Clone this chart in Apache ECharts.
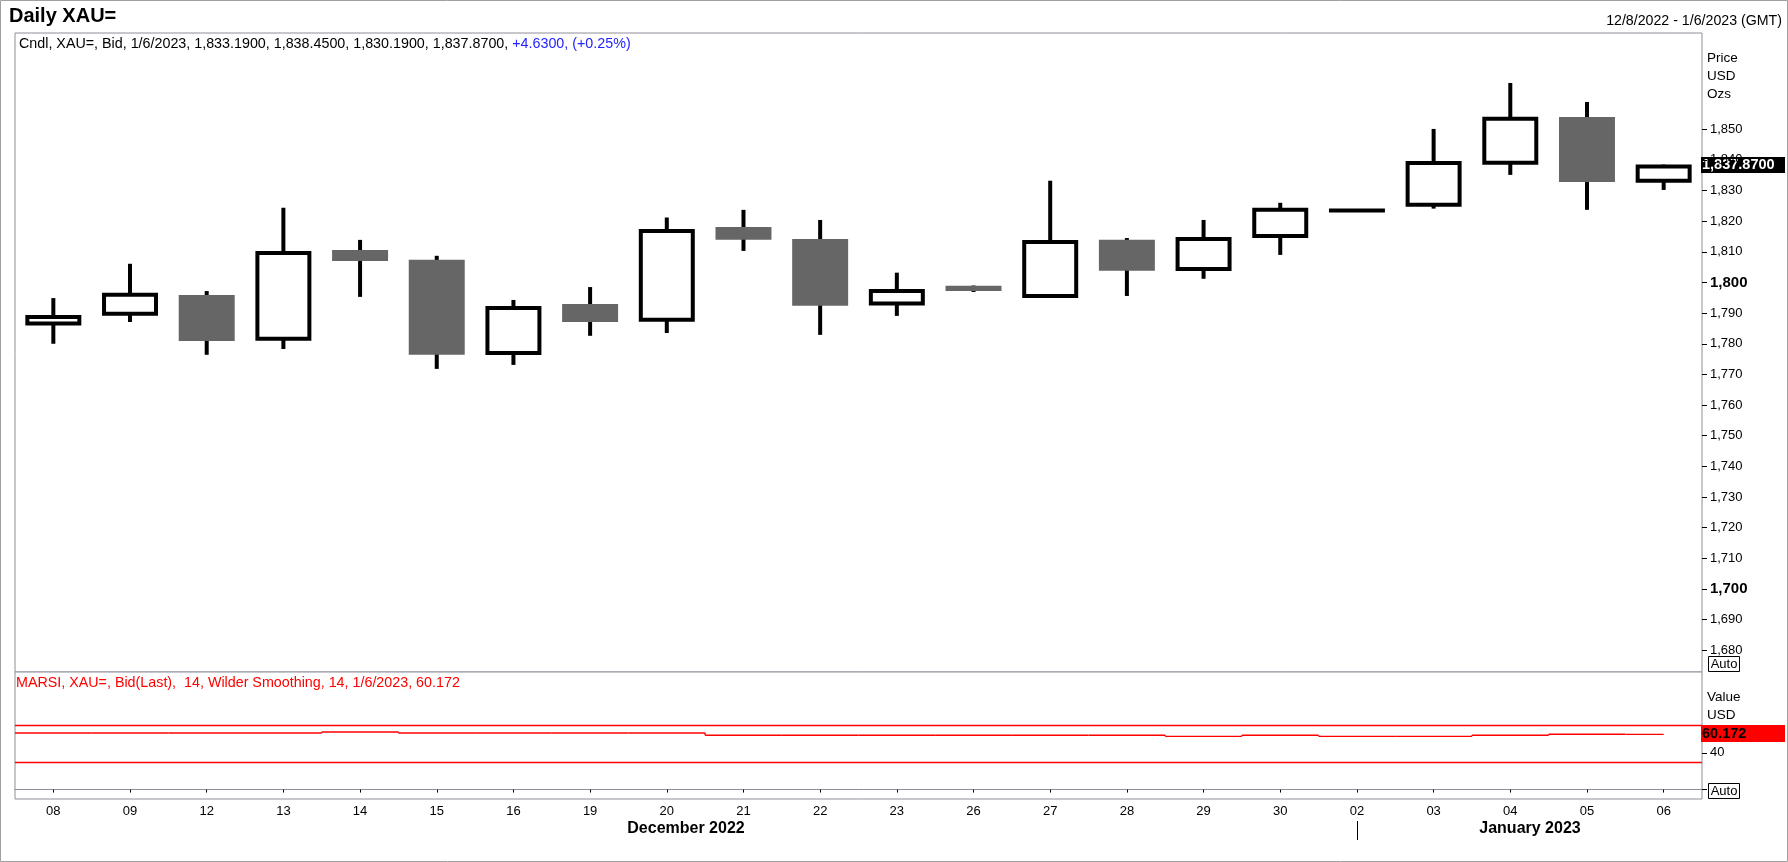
<!DOCTYPE html>
<html><head><meta charset="utf-8">
<script src="https://cdn.jsdelivr.net/npm/echarts@6/dist/echarts.min.js"></script>
<style>html,body{margin:0;padding:0;background:#fff}#c{width:1788px;height:862px}</style>
</head><body><div id="c"></div>
<script>
// ---- data ----
const days   = ['08','09','12','13','14','15','16','19','20','21','22','23','26','27','28','29','30','02','03','04','05','06'];
const opens  = [1786.6,1789.8,1795.9,1781.6,1810.6,1807.4,1777.0,1793.0,1787.8,1818.1,1814.2,1793.1,1798.9,1795.6,1813.9,1804.4,1815.2,1823.5,1825.4,1839.1,1854.0,1833.19];
const closes = [1788.7,1796.0,1780.9,1809.6,1807.0,1776.4,1791.7,1787.1,1816.8,1813.9,1792.4,1797.2,1797.2,1813.2,1803.8,1814.2,1823.7,1823.5,1839.0,1853.4,1832.8,1837.87];
const lows   = [1780.0,1787.1,1776.4,1778.3,1795.3,1771.8,1773.1,1782.6,1783.5,1810.3,1782.9,1789.1,1796.9,1795.6,1795.6,1801.2,1809.0,1823.5,1824.1,1835.1,1823.7,1830.19];
const highs  = [1794.9,1806.1,1797.2,1824.4,1813.9,1808.7,1794.3,1798.5,1821.2,1823.7,1820.4,1803.2,1799.0,1833.2,1814.5,1820.4,1826.0,1823.5,1850.1,1865.1,1858.9,1838.45];
const rsiValues = [61.6,61.6,61.6,61.6,62.7,61.6,61.6,61.6,61.6,59.1,59.1,59.1,59.1,59.1,59.1,58.0,59.1,58.0,58.0,59.1,60.2,60.172];
const rsiLevels = [70, 30];
const priceTicks = [1680,1690,1700,1710,1720,1730,1740,1750,1760,1770,1780,1790,1800,1810,1820,1830,1840,1850];
const boldTicks = [1700, 1800];
const rsiTicks = [0, 40];
const rsiLabelTicks = [40];
const monthLabels = ['December 2022', 'January 2023'];

const FONT = "'Liberation Sans', Arial, Helvetica, sans-serif";
const chart = echarts.init(document.getElementById('c'), null, {renderer: 'canvas'});
const candleData = days.map((d, i) => [i, opens[i], closes[i], lows[i], highs[i]]);
const rsiData = days.map((d, i) => [i, rsiValues[i], i > 0 ? rsiValues[i - 1] : rsiValues[i]]);
const fmt = v => Number(v).toLocaleString('en-US');

function renderCandle(params, api) {
  const x = api.value(0), o = api.value(1), c = api.value(2), l = api.value(3), h = api.value(4);
  const pO = api.coord([x, o]), pC = api.coord([x, c]), pL = api.coord([x, l]), pH = api.coord([x, h]);
  const bw = api.size([1, 0])[0] * 0.73;
  const top = Math.min(pO[1], pC[1]);
  const hgt = Math.abs(pO[1] - pC[1]);
  const up = c >= o;
  const children = [{
    type: 'line',
    shape: {x1: pH[0], y1: pH[1], x2: pL[0], y2: pL[1]},
    style: {stroke: '#000', lineWidth: 4}
  }];
  if (up) {
    children.push({
      type: 'rect',
      shape: {x: pO[0] - (bw - 4) / 2, y: top, width: bw - 4, height: Math.max(hgt, 0.01)},
      style: {fill: '#fff', stroke: '#000', lineWidth: 4}
    });
  } else {
    children.push({
      type: 'rect',
      shape: {x: pO[0] - bw / 2, y: top, width: bw, height: Math.max(hgt, 1)},
      style: {fill: '#666666'}
    });
  }
  return {type: 'group', children};
}

// RSI drawn as a step line: each day's value spans its own band, the last ends at its centre
function renderRsi(params, api) {
  const i = api.value(0), v = api.value(1), prev = api.value(2);
  const p = api.coord([i, v]), pp = api.coord([i, prev]);
  const w = api.size([1, 0])[0];
  const isLast = params.dataIndex === params.dataInsideLength - 1;
  const x0 = p[0] - w / 2, x1 = isLast ? p[0] : p[0] + w / 2;
  const st = {stroke: '#ff0000', lineWidth: 1.4, fill: 'none'};
  const children = [{type: 'line', shape: {x1: x0, y1: p[1], x2: x1, y2: p[1]}, style: st}];
  if (params.dataIndex > 0) children.push({type: 'line', shape: {x1: x0, y1: pp[1], x2: x0, y2: p[1]}, style: st});
  return {type: 'group', children};
}

const option = {
  animation: false,
  backgroundColor: '#fff',
  grid: [
    {left: 15, top: 33, right: 86, bottom: 190, show: true, borderColor: '#8e8e9a', borderWidth: 1, backgroundColor: '#fff'},
    {left: 15, top: 672, right: 86, bottom: 63, show: true, borderColor: '#8e8e9a', borderWidth: 1, backgroundColor: '#fff'}
  ],
  xAxis: [
    {type: 'category', gridIndex: 0, data: days, boundaryGap: true, show: false},
    {type: 'category', gridIndex: 1, data: days, boundaryGap: true,
      axisLine: {show: true, lineStyle: {color: '#8e8e9a'}},
      axisTick: {show: true, alignWithLabel: true, length: 3, lineStyle: {color: '#000'}},
      axisLabel: {interval: 0, fontSize: 13, color: '#000', margin: 6, fontFamily: FONT},
      splitLine: {show: false}}
  ],
  yAxis: [
    {type: 'value', gridIndex: 0, position: 'right', min: 1672.9, max: 1881.4,
      axisLine: {show: false}, splitLine: {show: false},
      axisTick: {show: true, length: 5, customValues: priceTicks, lineStyle: {color: '#000'}},
      axisLabel: {customValues: priceTicks, margin: 8, fontSize: 13, color: '#000', fontFamily: FONT,
        formatter: v => boldTicks.includes(v) ? '{b|' + fmt(v) + '}' : fmt(v),
        rich: {b: {fontWeight: 'bold', fontSize: 15, color: '#000', fontFamily: FONT}}}},
    {type: 'value', gridIndex: 1, position: 'right', min: -10.3, max: 128.1,
      axisLine: {show: false}, splitLine: {show: false},
      axisTick: {show: true, length: 5, customValues: rsiTicks, lineStyle: {color: '#000'}},
      axisLabel: {customValues: rsiLabelTicks, margin: 8, fontSize: 13, color: '#000', fontFamily: FONT}}
  ],
  series: [
    {type: 'custom', name: 'XAU=', xAxisIndex: 0, yAxisIndex: 0, data: candleData,
      encode: {x: 0, y: [1, 2, 3, 4]}, renderItem: renderCandle, clip: true},
    {type: 'custom', name: 'MARSI', xAxisIndex: 1, yAxisIndex: 1, data: rsiData,
      encode: {x: 0, y: [1, 2]}, renderItem: renderRsi,
      markLine: {silent: true, symbol: 'none', label: {show: false},
        lineStyle: {color: '#ff0000', width: 1.3, type: 'solid'},
        data: rsiLevels.map(v => ({yAxis: v}))}}
  ]
};
chart.setOption(option);

// ---- annotations ----
const ctx = document.createElement('canvas').getContext('2d');
function textW(t, font) { ctx.font = font; return ctx.measureText(t).width; }
const last = days.length - 1;
const yClose = chart.convertToPixel({yAxisIndex: 0}, closes[last]);
const yRsi = chart.convertToPixel({yAxisIndex: 1}, rsiValues[last]);
const xSep = chart.convertToPixel({xAxisIndex: 1}, 17);
const fix4 = v => v.toLocaleString('en-US', {minimumFractionDigits: 4, maximumFractionDigits: 4});
const hdrA = 'Cndl, XAU=, Bid, 1/6/2023, ' + [opens[last], highs[last], lows[last], closes[last]].map(fix4).join(', ') + ', ';
const hdrB = '+4.6300, (+0.25%)';
const hdrFont = '14.3px ' + FONT;
const wA = textW(hdrA, hdrFont);
const T = (x, y, text, font, fill, align) => ({type: 'text', silent: true,
  style: {x, y, text, font, fill, textAlign: align || 'left', align: align || 'left', textVerticalAlign: 'middle', verticalAlign: 'middle'}});
const lab = '13.5px ' + FONT;

const graphics = [
  {type: 'rect', silent: true, shape: {x: 0.5, y: 0.5, width: 1787, height: 861}, style: {fill: 'none', stroke: '#a0a0a0', lineWidth: 1}},
  T(9, 16.5, 'Daily XAU=', 'bold 20px ' + FONT, '#000'),
  T(1782, 21, '12/8/2022 - 1/6/2023 (GMT)', '14.2px ' + FONT, '#000', 'right'),
  T(19, 44, hdrA, hdrFont, '#000'),
  T(19 + wA, 44, hdrB, hdrFont, '#2323ff'),
  T(1707, 58, 'Price', lab, '#000'),
  T(1707, 76, 'USD', lab, '#000'),
  T(1707, 94, 'Ozs', lab, '#000'),
  {type: 'rect', silent: true, shape: {x: 1701, y: Math.round(yClose) - 9, width: 84, height: 16}, style: {fill: '#000'}},
  T(1702, Math.round(yClose) - 1, fix4(closes[last]), 'bold 14.5px ' + FONT, '#fff'),
  {type: 'rect', silent: true, shape: {x: 1708.5, y: 656.5, width: 31, height: 15}, style: {fill: '#fff', stroke: '#000', lineWidth: 1}},
  T(1724, 664, 'Auto', '13px ' + FONT, '#000', 'center'),
  T(16, 683.5, 'MARSI, XAU=, Bid(Last),  14, Wilder Smoothing, 14, 1/6/2023, ' + rsiValues[last], '14.3px ' + FONT, '#ff0000'),
  T(1707, 697, 'Value', lab, '#000'),
  T(1707, 715, 'USD', lab, '#000'),
  {type: 'rect', silent: true, shape: {x: 1701, y: Math.round(yRsi) - 9, width: 84, height: 17}, style: {fill: '#ff0000'}},
  T(1702, Math.round(yRsi), String(rsiValues[last]), 'bold 14.5px ' + FONT, '#000'),
  {type: 'rect', silent: true, shape: {x: 1708.5, y: 783.5, width: 31, height: 15}, style: {fill: '#fff', stroke: '#000', lineWidth: 1}},
  T(1724, 791, 'Auto', '13px ' + FONT, '#000', 'center'),
  {type: 'line', silent: true, shape: {x1: Math.round(xSep) + 0.5, y1: 821, x2: Math.round(xSep) + 0.5, y2: 840}, style: {stroke: '#000', lineWidth: 1}},
  T(686, 829, monthLabels[0], 'bold 16px ' + FONT, '#000', 'center'),
  T(1530, 829, monthLabels[1], 'bold 16px ' + FONT, '#000', 'center')
];
chart.setOption({graphic: {elements: graphics}});
</script></body></html>
